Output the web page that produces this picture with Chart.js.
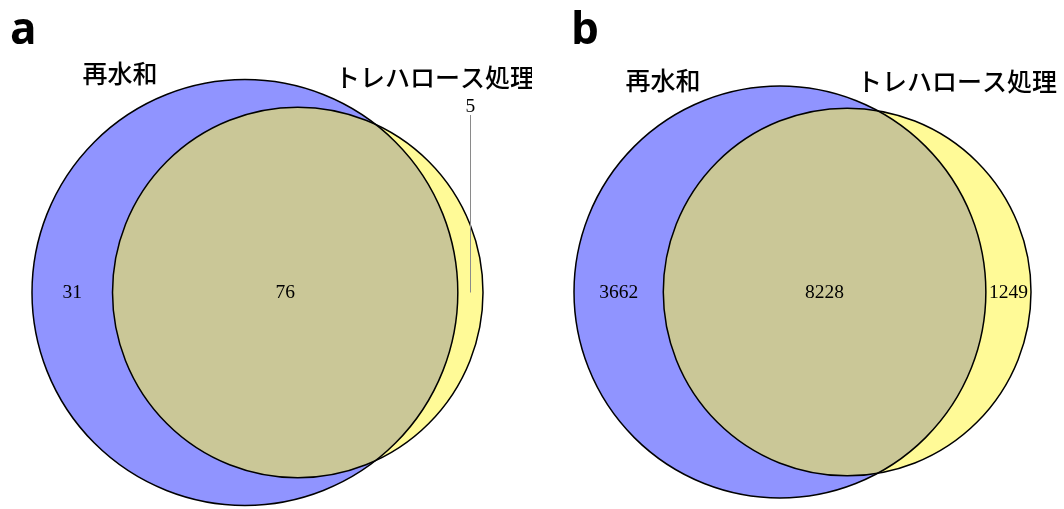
<!DOCTYPE html>
<html>
<head>
<meta charset="utf-8">
<script src="https://cdn.jsdelivr.net/npm/chart.js@4.4.1/dist/chart.umd.min.js"></script>
<style>
  html, body { margin: 0; padding: 0; background: #fff; }
  #wrap { position: relative; width: 1064px; height: 509px; overflow: hidden; }
  .panel { position: absolute; top: 0; width: 532px; height: 509px; }
</style>
</head>
<body>
<div id="wrap">
  <div class="panel" style="left:0"><canvas id="venn-a" width="532" height="509"></canvas></div>
  <div class="panel" style="left:532px"><canvas id="venn-b" width="532" height="509"></canvas></div>
</div>
<script>
// Set names
const setNames = ['再水和', 'トレハロース処理'];
// Region counts: [再水和 only, both, トレハロース処理 only]
const countsA = [31, 76, 5];
const countsB = [3662, 8228, 1249];
const panelLetters = ['a', 'b'];

// Colours
const blueFill = 'rgb(144,148,255)';
const yellowFill = 'rgba(255,245,55,0.52)';
const leaderColor = '#8a8a8a';

// Page layout of each panel (pixels)
const layoutA = {
  offsetX: 0, left: 32, width: 451, centerY: 292.5,
  letter: { x: 10, y: 44 },
  names: [{ x: 120, y: 73 }, { x: 435, y: 77 }],
  outsideLabelY: 106.5
};
const layoutB = {
  offsetX: 532, left: 574, width: 457, centerY: 292,
  letter: { x: 571, y: 44 },
  names: [{ x: 663, y: 80 }, { x: 957, y: 81 }],
  outsideLabelY: null
};

// Area of the lens formed by two circles of radii r1, r2 whose centres are d apart
function lensArea(r1, r2, d) {
  if (d >= r1 + r2) return 0;
  if (d <= Math.abs(r1 - r2)) return Math.PI * Math.min(r1, r2) ** 2;
  const a1 = (d * d + r1 * r1 - r2 * r2) / (2 * d);
  const a2 = d - a1;
  return r1 * r1 * Math.acos(a1 / r1) - a1 * Math.sqrt(r1 * r1 - a1 * a1)
       + r2 * r2 * Math.acos(a2 / r2) - a2 * Math.sqrt(r2 * r2 - a2 * a2);
}

// Area-proportional two-set layout: circle areas equal set sizes, lens area equals the overlap
function vennGeometry(counts) {
  const [onlyA, both, onlyB] = counts;
  const r1 = Math.sqrt((onlyA + both) / Math.PI);
  const r2 = Math.sqrt((onlyB + both) / Math.PI);
  let lo = Math.abs(r1 - r2), hi = r1 + r2;
  for (let i = 0; i < 200; i++) {
    const mid = (lo + hi) / 2;
    if (lensArea(r1, r2, mid) > both) lo = mid; else hi = mid;
  }
  return { r1, r2, d: (lo + hi) / 2 };
}

function drawVenn(canvasId, counts, layout, letter) {
  const g = vennGeometry(counts);
  const cw = 532, ch = 509;
  const s = layout.width / (g.r1 + g.d + g.r2);
  const xMin = -g.r1 - (layout.left - layout.offsetX) / s;
  const yMax = layout.centerY / s;

  const circles = [{ x: 0, y: 0, rad: g.r1 }, { x: g.d, y: 0, rad: g.r2 }];
  // circle radius in pixels, taken from the x scale
  const radiusPx = (c) => {
    if (!c.raw) return 0;
    const sc = c.chart.scales.x;
    const v = sc.getPixelForValue(c.raw.x + c.raw.rad) - sc.getPixelForValue(c.raw.x);
    return isFinite(v) ? v : 0;
  };

  const labels = {
    id: 'vennLabels',
    afterDatasetsDraw(chart) {
      const { ctx, scales: { x, y } } = chart;
      const ox = layout.offsetX;
      ctx.save();
      // region counts, centred in each region along the line of centres
      const xs = [
        (-g.r1 + (g.d - g.r2)) / 2,
        ((g.d - g.r2) + g.r1) / 2,
        (g.r1 + (g.d + g.r2)) / 2
      ];
      const cy = y.getPixelForValue(0);
      ctx.fillStyle = '#000';
      ctx.font = '19.5px "Liberation Serif", "Times New Roman", serif';
      ctx.textAlign = 'center';
      ctx.textBaseline = 'middle';
      counts.forEach((n, i) => {
        const px = x.getPixelForValue(xs[i]);
        if (i === 2 && layout.outsideLabelY !== null) {
          ctx.strokeStyle = leaderColor;
          ctx.lineWidth = 1;
          ctx.beginPath();
          ctx.moveTo(Math.round(px) + 0.5, layout.outsideLabelY + 8.5);
          ctx.lineTo(Math.round(px) + 0.5, cy);
          ctx.stroke();
          ctx.fillText(String(n), px, layout.outsideLabelY);
        } else {
          ctx.fillText(String(n), px, cy + 0.5);
        }
      });
      // set names
      ctx.font = '500 25px "Noto Sans CJK JP", sans-serif';
      layout.names.forEach((p, i) => ctx.fillText(setNames[i], p.x - ox, p.y));
      // panel letter
      ctx.font = 'bold 44px "Open Sans", "DejaVu Sans", sans-serif';
      ctx.textAlign = 'left';
      ctx.textBaseline = 'alphabetic';
      ctx.fillText(letter, layout.letter.x - ox, layout.letter.y);
      ctx.restore();
    }
  };

  const circleSet = (label, data, order, fill, border, width) => ({
    label, data, order, showLine: false, clip: false,
    pointRadius: radiusPx, pointHoverRadius: radiusPx, pointHitRadius: 0,
    pointBackgroundColor: fill, pointBorderColor: border, pointBorderWidth: width
  });

  new Chart(document.getElementById(canvasId), {
    type: 'scatter',
    data: {
      datasets: [
        circleSet('outline', circles, 0, 'rgba(0,0,0,0)', '#000', 1.5),
        circleSet(setNames[1], [circles[1]], 1, yellowFill, 'rgba(0,0,0,0)', 0),
        circleSet(setNames[0], [circles[0]], 2, blueFill, 'rgba(0,0,0,0)', 0)
      ]
    },
    options: {
      responsive: false,
      animation: false,
      events: [],
      layout: { padding: 0, autoPadding: false },
      scales: {
        x: { type: 'linear', display: false, min: xMin, max: xMin + cw / s },
        y: { type: 'linear', display: false, min: yMax - ch / s, max: yMax }
      },
      plugins: { legend: { display: false }, tooltip: { enabled: false } }
    },
    plugins: [labels]
  });
}

drawVenn('venn-a', countsA, layoutA, panelLetters[0]);
drawVenn('venn-b', countsB, layoutB, panelLetters[1]);
</script>
</body>
</html>
